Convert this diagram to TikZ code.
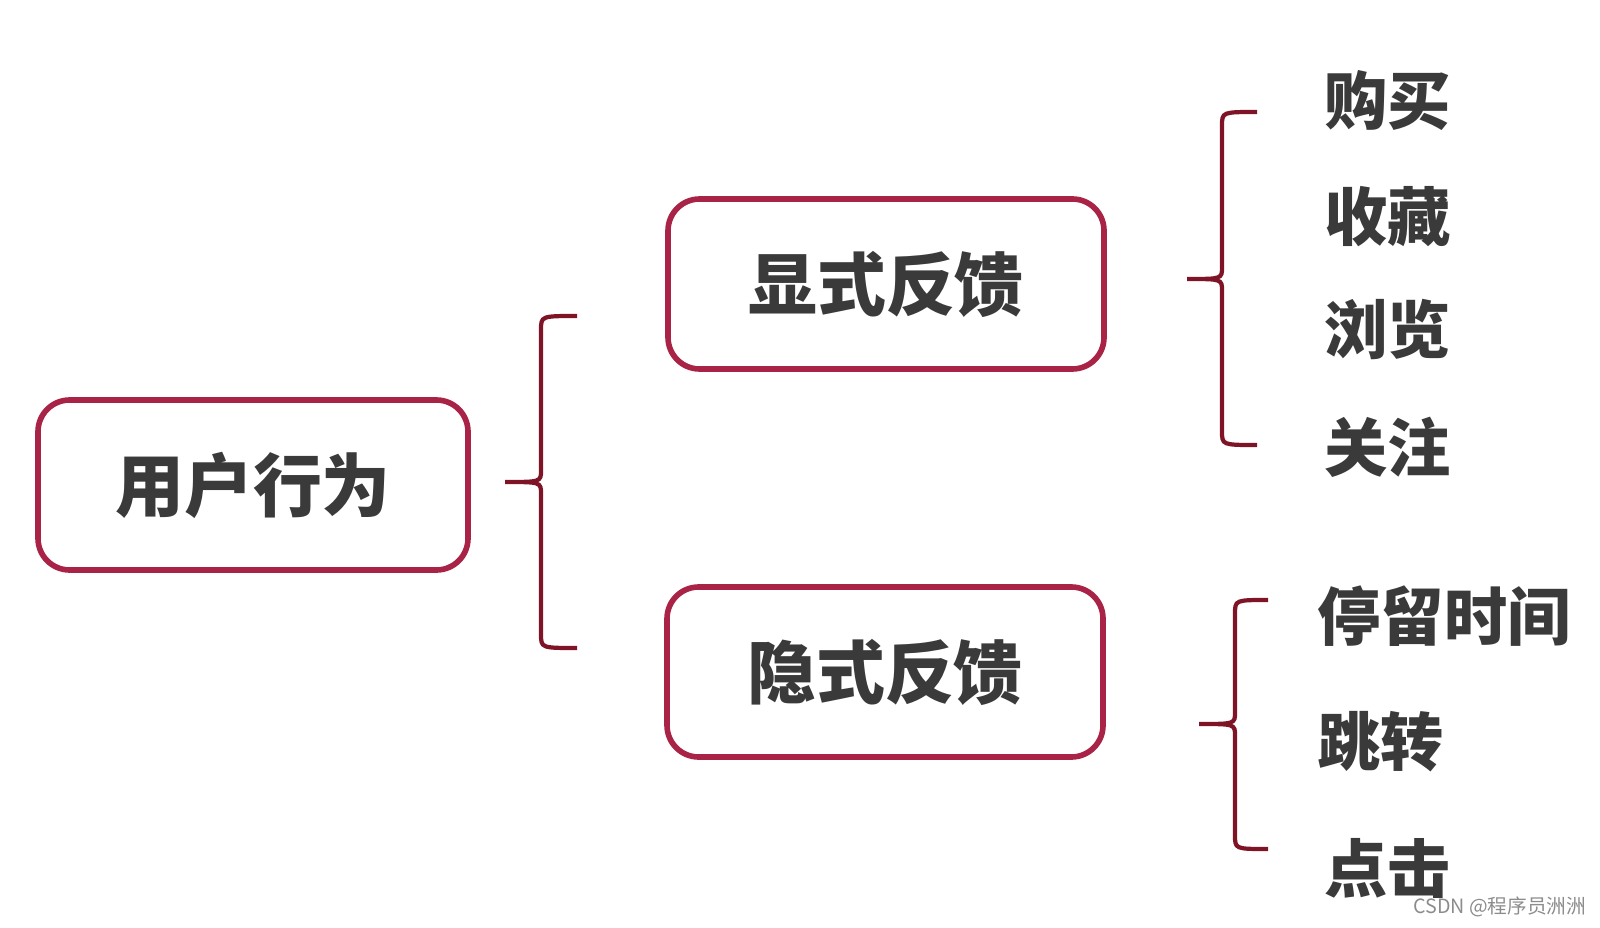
\documentclass[tikz,border=0pt]{standalone}
\usepackage{fontspec}
\usepackage{tikz}
\usetikzlibrary{positioning, shadows, calc}
\newfontfamily\cjk{Noto Sans CJK SC}
\definecolor{boxred}{HTML}{A82346}
\definecolor{bracered}{HTML}{7E1426}
\definecolor{textgray}{HTML}{3A3A3A}

\begin{document}
\begin{tikzpicture}[
  box/.style={rectangle, rounded corners=9pt, minimum width=4.36cm,
              minimum height=1.70cm, text centered, fill=white,
              font=\cjk\bfseries\fontsize{19.6}{23}\selectfont, text=textgray,
              draw=boxred, line width=1.6pt,
              drop shadow={opacity=0.12, shadow xshift=0.6pt, shadow yshift=-0.6pt}},
  leaf/.style={anchor=west, inner sep=0pt,
               font=\cjk\bfseries\fontsize{18}{22}\selectfont, text=textgray},
  brace/.style={draw=bracered, line width=1.2pt},
]
  \useasboundingbox (0,0) rectangle (16,-9.27);

  \node[box, minimum width=4.30cm] (act) at (2.53,-4.85) {用户行为};
  \node[box] (exp) at (8.86,-2.84) {显式反馈};
  \node[box] (imp) at (8.85,-6.72) {隐式反馈};

  \node[leaf] (buy)  at (13.24,-1.00) {购买};
  \node[leaf] (fav)  at (13.24,-2.17) {收藏};
  \node[leaf] (view) at (13.24,-3.29) {浏览};
  \node[leaf] (fol)  at (13.24,-4.47) {关注};

  \node[leaf] (stay) at (13.17,-6.16) {停留时间};
  \node[leaf] (jump) at (13.17,-7.42) {跳转};
  \node[leaf] (clk)  at (13.24,-8.68) {点击};

  \node[anchor=east, inner sep=0pt, font=\cjk\fontsize{5.6}{7}\selectfont, text=black!45]
       (mark) at (15.87,-9.07) {CSDN @程序员洲洲};

  % braces: tip on the left, hooks on the right
  \draw[brace] (5.77,-3.16) .. controls (5.41,-3.16) .. (5.41,-3.30)
               -- (5.41,-4.70) .. controls (5.41,-4.82) .. (5.05,-4.82)
               .. controls (5.41,-4.82) .. (5.41,-4.94)
               -- (5.41,-6.34) .. controls (5.41,-6.48) .. (5.77,-6.48);
  \draw[brace] (12.57,-1.12) .. controls (12.22,-1.12) .. (12.22,-1.26)
               -- (12.22,-2.67) .. controls (12.22,-2.79) .. (11.87,-2.79)
               .. controls (12.22,-2.79) .. (12.22,-2.91)
               -- (12.22,-4.31) .. controls (12.22,-4.45) .. (12.57,-4.45);
  \draw[brace] (12.68,-6.00) .. controls (12.35,-6.00) .. (12.35,-6.14)
               -- (12.35,-7.12) .. controls (12.35,-7.24) .. (11.99,-7.24)
               .. controls (12.35,-7.24) .. (12.35,-7.36)
               -- (12.35,-8.35) .. controls (12.35,-8.49) .. (12.68,-8.49);
\end{tikzpicture}
\end{document}
